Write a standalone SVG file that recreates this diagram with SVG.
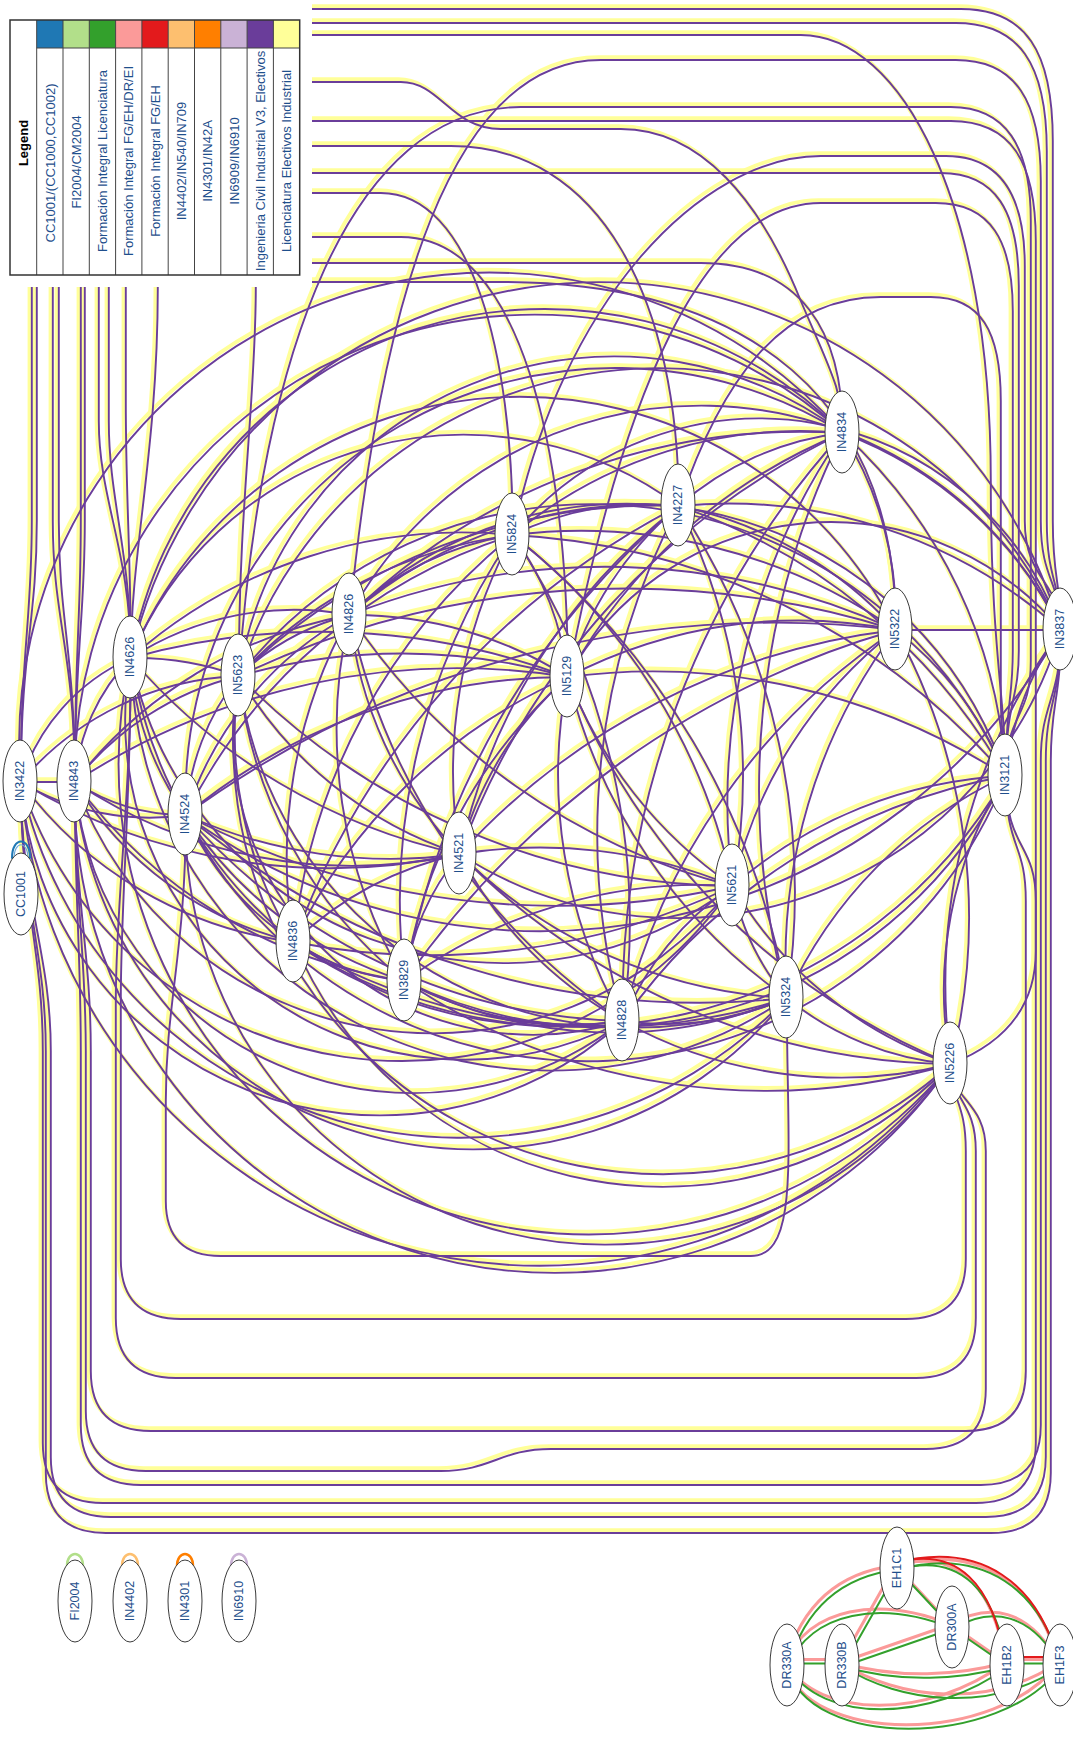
<svg xmlns="http://www.w3.org/2000/svg" xmlns:xlink="http://www.w3.org/1999/xlink" width="1073" height="1737" viewBox="0 0 1073 1737">
<style>
.n ellipse{fill:#fff;stroke:#3a3a3a;stroke-width:1}
.n text,.lt{font-family:"Liberation Sans",Arial,sans-serif;font-size:12.5px;fill:#1f4f8c;text-anchor:middle}
.lt{font-size:13px}
.lh{font-family:"Liberation Sans",Arial,sans-serif;font-size:13px;font-weight:bold;fill:#000;text-anchor:middle}
.grid{stroke:#444;stroke-width:1;fill:none}
</style>
<rect width="1073" height="1737" fill="#fff"/>
<g id="connectors" fill="none" stroke-linecap="round">
<g stroke="#ffff99" stroke-width="3.8" transform="translate(-1.5,-1.9)">
<g id="E">
<path d="M20,781L74,781"/>
<path d="M20,781A200,200 0 0 1 130,657"/>
<path d="M20,781A300,300 0 0 1 238,675"/>
<path d="M20,781A250,250 0 0 0 185,814"/>
<path d="M20,781A400,400 0 0 0 293,941"/>
<path d="M20,781A600,600 0 0 0 459,853"/>
<path d="M74,781A200,200 0 0 1 130,657"/>
<path d="M74,781A300,300 0 0 1 238,675"/>
<path d="M74,781A200,200 0 0 0 185,814"/>
<path d="M74,781A450,450 0 0 1 349,614"/>
<path d="M74,781A700,700 0 0 1 567,676"/>
<path d="M74,781A500,500 0 0 0 459,853"/>
<path d="M74,781A350,350 0 0 0 293,941"/>
<path d="M74,781A500,500 0 0 0 404,980"/>
<path d="M130,657A300,300 0 0 1 238,675"/>
<path d="M130,657A300,300 0 0 1 349,614"/>
<path d="M130,657A500,500 0 0 1 512,534"/>
<path d="M130,657A300,300 0 0 0 185,814"/>
<path d="M130,657A600,600 0 0 0 459,853"/>
<path d="M130,657A450,450 0 0 0 293,941"/>
<path d="M130,657A700,700 0 0 1 567,676"/>
<path d="M130,657A360,360 0 0 1 678,505"/>
<path d="M185,814A250,250 0 0 1 238,675"/>
<path d="M185,814A350,350 0 0 1 349,614"/>
<path d="M185,814A550,550 0 0 1 512,534"/>
<path d="M185,814A600,600 0 0 1 567,676"/>
<path d="M185,814A500,500 0 0 0 459,853"/>
<path d="M185,814A300,300 0 0 0 293,941"/>
<path d="M185,814A400,400 0 0 0 404,980"/>
<path d="M185,814A800,800 0 0 0 732,885"/>
<path d="M185,814A600,600 0 0 0 622,1020"/>
<path d="M185,814A1000,1000 0 0 1 895,629"/>
<path d="M185,814A800,800 0 0 0 786,997"/>
<path d="M238,675A250,250 0 0 1 349,614"/>
<path d="M238,675A450,450 0 0 1 512,534"/>
<path d="M238,675A600,600 0 0 1 567,676"/>
<path d="M238,675A400,400 0 0 0 459,853"/>
<path d="M238,675A400,400 0 0 0 293,941"/>
<path d="M238,675A450,450 0 0 0 404,980"/>
<path d="M238,675A600,600 0 0 1 678,505"/>
<path d="M238,675A900,900 0 0 1 895,629"/>
<path d="M238,675A700,700 0 0 0 732,885"/>
<path d="M238,675A380,380 0 0 1 842,432"/>
<path d="M293,941A500,500 0 0 1 349,614"/>
<path d="M293,941A350,350 0 0 1 459,853"/>
<path d="M293,941A250,250 0 0 0 404,980"/>
<path d="M293,941A550,550 0 0 1 567,676"/>
<path d="M293,941A450,450 0 0 0 622,1020"/>
<path d="M293,941A700,700 0 0 0 732,885"/>
<path d="M293,941A600,600 0 0 0 786,997"/>
<path d="M293,941A600,600 0 0 1 512,534"/>
<path d="M293,941A800,800 0 0 1 678,505"/>
<path d="M293,941A400,400 0 0 0 950,1063"/>
<path d="M349,614A300,300 0 0 1 512,534"/>
<path d="M349,614A400,400 0 0 1 567,676"/>
<path d="M349,614A400,400 0 0 0 459,853"/>
<path d="M349,614A500,500 0 0 0 404,980"/>
<path d="M349,614A450,450 0 0 1 678,505"/>
<path d="M349,614A700,700 0 0 1 895,629"/>
<path d="M349,614A650,650 0 0 1 842,432"/>
<path d="M349,614A650,650 0 0 0 732,885"/>
<path d="M349,614A650,650 0 0 0 622,1020"/>
<path d="M404,980A250,250 0 0 1 459,853"/>
<path d="M404,980A500,500 0 0 1 567,676"/>
<path d="M404,980A350,350 0 0 0 622,1020"/>
<path d="M404,980A500,500 0 0 1 732,885"/>
<path d="M404,980A450,450 0 0 0 786,997"/>
<path d="M404,980A650,650 0 0 1 512,534"/>
<path d="M404,980A800,800 0 0 1 678,505"/>
<path d="M404,980A650,650 0 0 0 950,1063"/>
<path d="M404,980A900,900 0 0 1 895,629"/>
<path d="M459,853A500,500 0 0 1 512,534"/>
<path d="M459,853A350,350 0 0 1 567,676"/>
<path d="M459,853A400,400 0 0 0 622,1020"/>
<path d="M459,853A500,500 0 0 1 732,885"/>
<path d="M459,853A500,500 0 0 0 786,997"/>
<path d="M459,853A600,600 0 0 1 678,505"/>
<path d="M459,853A700,700 0 0 1 895,629"/>
<path d="M459,853A750,750 0 0 1 842,432"/>
<path d="M459,853A700,700 0 0 0 950,1063"/>
<path d="M512,534A300,300 0 0 1 567,676"/>
<path d="M512,534A300,300 0 0 1 678,505"/>
<path d="M512,534A450,450 0 0 1 842,432"/>
<path d="M512,534A550,550 0 0 1 895,629"/>
<path d="M512,534A600,600 0 0 1 732,885"/>
<path d="M512,534A700,700 0 0 1 622,1020"/>
<path d="M512,534A750,750 0 0 1 786,997"/>
<path d="M512,534A700,700 0 0 1 1005,775"/>
<path d="M567,676A350,350 0 0 1 678,505"/>
<path d="M567,676A450,450 0 0 0 732,885"/>
<path d="M567,676A500,500 0 0 0 622,1020"/>
<path d="M567,676A550,550 0 0 0 786,997"/>
<path d="M567,676A500,500 0 0 1 895,629"/>
<path d="M567,676A550,550 0 0 1 842,432"/>
<path d="M567,676A700,700 0 0 0 950,1063"/>
<path d="M567,676A650,650 0 0 1 1005,775"/>
<path d="M622,1020A300,300 0 0 1 732,885"/>
<path d="M622,1020A300,300 0 0 0 786,997"/>
<path d="M622,1020A700,700 0 0 1 678,505"/>
<path d="M622,1020A650,650 0 0 1 895,629"/>
<path d="M622,1020A450,450 0 0 0 950,1063"/>
<path d="M622,1020A850,850 0 0 1 842,432"/>
<path d="M622,1020A600,600 0 0 1 1005,775"/>
<path d="M678,505A300,300 0 0 1 842,432"/>
<path d="M678,505A400,400 0 0 1 895,629"/>
<path d="M678,505A600,600 0 0 1 732,885"/>
<path d="M678,505A700,700 0 0 1 786,997"/>
<path d="M678,505A600,600 0 0 1 1005,775"/>
<path d="M678,505A500,500 0 0 1 1060,629"/>
<path d="M732,885A250,250 0 0 0 786,997"/>
<path d="M732,885A450,450 0 0 1 895,629"/>
<path d="M732,885A400,400 0 0 0 950,1063"/>
<path d="M732,885A450,450 0 0 1 1005,775"/>
<path d="M732,885A650,650 0 0 1 842,432"/>
<path d="M786,997A550,550 0 0 1 895,629"/>
<path d="M786,997A300,300 0 0 0 950,1063"/>
<path d="M786,997A450,450 0 0 1 1005,775"/>
<path d="M786,997A800,800 0 0 1 842,432"/>
<path d="M842,432A350,350 0 0 1 895,629"/>
<path d="M842,432A500,500 0 0 1 1005,775"/>
<path d="M842,432A400,400 0 0 1 1060,629"/>
<path d="M895,629L1060,629"/>
<path d="M895,629A350,350 0 0 1 1005,775"/>
<path d="M895,629A600,600 0 0 1 950,1063"/>
<path d="M950,1063A400,400 0 0 1 1005,775"/>
<path d="M950,1063A600,600 0 0 1 1060,629"/>
<path d="M1005,775A300,300 0 0 1 1060,629"/>
<path d="M20,781A520,520 0 0 0 950,1063"/>
<path d="M74,781A400,400 0 0 0 786,997"/>
<path d="M130,657A340,340 0 0 0 622,1020"/>
<path d="M74,781A480,480 0 0 0 950,1063"/>
<path d="M20,781A360,360 0 0 0 622,1020"/>
<path d="M130,657A470,470 0 0 0 950,1063"/>
<path d="M185,814A420,420 0 0 0 950,1063"/>
<path d="M238,675A430,430 0 0 0 950,1063"/>
<path d="M20,781A450,450 0 0 0 786,997"/>
<path d="M238,675A400,400 0 0 0 786,997"/>
<path d="M74,781A380,380 0 0 0 732,885"/>
<path d="M130,657A420,420 0 0 0 786,997"/>
<path d="M20,781A400,400 0 0 0 732,885"/>
<path d="M130,657A380,380 0 0 0 732,885"/>
<path d="M185,814A450,450 0 0 0 1005,775"/>
<path d="M238,675A300,300 0 0 0 622,1020"/>
<path d="M74,781A340,340 0 0 0 622,1020"/>
<path d="M293,941A500,500 0 0 0 1005,775"/>
<path d="M404,980A450,450 0 0 0 1005,775"/>
<path d="M185,814A600,600 0 0 0 1060,629"/>
<path d="M459,853A400,400 0 0 0 1060,629"/>
<path d="M130,657A420,420 0 0 1 842,432"/>
<path d="M238,675A440,440 0 0 1 1060,629"/>
<path d="M349,614A400,400 0 0 1 1060,629"/>
<path d="M130,657A420,420 0 0 1 895,629"/>
<path d="M512,534A320,320 0 0 1 1060,629"/>
<path d="M185,814A430,430 0 0 1 842,432"/>
<path d="M349,614A400,400 0 0 1 1005,775"/>
<path d="M238,675A450,450 0 0 1 1005,775"/>
<path d="M567,676A300,300 0 0 1 1060,629"/>
<path d="M74,781A460,460 0 0 1 842,432"/>
<path d="M20,781A470,470 0 0 1 842,432"/>
<path d="M130,657A480,480 0 0 1 1060,629"/>
<path d="M20,781C20,650 31,620 31,520L31,8L960,8C1025,8 1052,50 1052,140L1052,520C1052,580 1060,580 1060,629"/>
<path d="M20,781C20,650 36,620 36,520L36,81L400,81C440,81 450,128 500,128L620,128C700,128 760,200 800,300C830,370 842,390 842,432"/>
<path d="M74,781C74,650 52,620 52,520L52,34L800,34C900,34 990,200 990,480C990,650 1005,700 1005,775"/>
<path d="M74,781C74,650 58,620 58,520L58,22L955,22C1018,22 1046,62 1046,150L1046,520C1046,580 1060,580 1060,629"/>
<path d="M74,781C74,650 80,620 80,520L80,145L450,145C600,145 678,300 678,505"/>
<path d="M74,781C74,650 84,620 84,520L84,281L500,281C750,281 895,400 895,629"/>
<path d="M130,657C130,550 98,500 98,420L98,192L380,192C470,192 512,350 512,534"/>
<path d="M130,657C130,550 108,500 108,420L108,236L400,236C520,236 567,450 567,676"/>
<path d="M130,657C130,550 125,500 125,400L125,262L700,262C800,262 842,330 842,432"/>
<path d="M130,657C130,550 157,450 157,287L157,120L950,120C1010,120 1035,160 1035,240L1035,950Q1035,1030 950,1063"/>
<path d="M238,675C238,500 255,400 255,287L255,172L940,172C995,172 1018,210 1018,285L1018,650C1018,700 1005,700 1005,775"/>
<path d="M349,614C380,300 450,59 600,59L955,59C1015,59 1040,100 1040,180L1040,520C1040,580 1060,580 1060,629"/>
<path d="M238,675C260,350 350,106 520,106L950,106C1005,106 1030,145 1030,220L1030,660C1030,720 1005,710 1005,775"/>
<path d="M512,534C560,300 700,155 820,155L945,155C1000,155 1024,195 1024,265L1024,520C1024,580 1060,580 1060,629"/>
<path d="M567,676C620,400 700,202 820,202L935,202C990,202 1012,240 1012,310L1012,650C1012,700 1005,700 1005,775"/>
<path d="M678,505C720,380 780,296 880,296L930,296C980,296 1000,330 1000,400L1000,700C1000,740 1005,740 1005,775"/>
<path d="M20,781C20,900 45,950 45,1050L45,1472Q45,1532 105,1532L990,1532Q1050,1532 1050,1472L1050,760C1050,700 1060,700 1060,629"/>
<path d="M20,781C20,900 50,950 50,1050L50,1456Q50,1516 110,1516L985,1516Q1045,1516 1045,1456L1045,760C1045,700 1060,700 1060,629"/>
<path d="M20,781C20,900 42,950 42,1050L42,1442Q42,1502 102,1502L975,1502Q1035,1502 1035,1442L1035,900C1035,840 1005,850 1005,775"/>
<path d="M74,781C74,900 80,950 80,1050L80,1424Q80,1484 140,1484L980,1484Q1040,1484 1040,1424L1040,760C1040,700 1060,700 1060,629"/>
<path d="M74,781C74,900 85,950 85,1050L85,1410Q85,1470 145,1470L440,1470C490,1470 500,1448 550,1448L925,1448Q985,1448 985,1388L985,1150C985,1100 950,1100 950,1063"/>
<path d="M74,781C74,900 90,950 90,1050L90,1370Q90,1430 150,1430L965,1430Q1025,1430 1025,1370L1025,900C1025,840 1005,850 1005,775"/>
<path d="M130,657C130,800 115,900 115,1000L115,1317Q115,1377 175,1377L915,1377Q975,1377 975,1317L975,1150C975,1100 950,1100 950,1063"/>
<path d="M130,657C130,800 120,900 120,1000L120,1258Q120,1318 180,1318L905,1318Q965,1318 965,1258L965,1150C965,1100 950,1100 950,1063"/>
<path d="M185,814C185,950 165,1000 165,1100L165,1200Q165,1255 220,1255L750,1255C800,1255 786,1150 786,997"/>
</g>
</g>
<use xlink:href="#E" href="#E" stroke="#6a3d9a" stroke-width="1.9" transform="translate(0.8,1)"/>
<g id="cluster-edges">
<g stroke="#fb9a99" stroke-width="3" transform="translate(-1.5,-2.5)">
<g id="CE">
<path d="M787,1665Q812,1578 897,1568"/>
<path d="M787,1665C810,1610 880,1598 952,1627"/>
<path d="M787,1662L842,1662"/>
<path d="M787,1665C820,1722 930,1722 1007,1665"/>
<path d="M787,1665C805,1748 1000,1748 1060,1665"/>
<path d="M842,1665L897,1568"/>
<path d="M842,1665L952,1627"/>
<path d="M842,1665C900,1682 960,1678 1007,1665"/>
<path d="M842,1665C900,1702 990,1712 1060,1665"/>
<path d="M897,1568L952,1627"/>
<path d="M897,1568C960,1550 995,1590 1007,1665"/>
<path d="M897,1568C985,1545 1040,1590 1060,1665"/>
<path d="M952,1627L1007,1665"/>
<path d="M952,1627C990,1605 1030,1610 1060,1665"/>
<path d="M1007,1662L1060,1662"/>
</g>
</g>
<use xlink:href="#CE" href="#CE" stroke="#33a02c" stroke-width="2" transform="translate(1,1.5)"/>
<g stroke="#e31a1c" stroke-width="2" transform="translate(-2,-5)">
<path d="M897,1568C960,1550 995,1590 1007,1665"/>
<path d="M897,1568C985,1545 1040,1590 1060,1665"/>
<path d="M1007,1662L1060,1662"/>
</g>
</g>
<g id="self-loops" stroke-width="2">
<path d="M12,858C12,836 30,836 30,858" stroke="#1f78b4"/>
<path d="M14,859C14,840 28,840 28,859" stroke="#6aa8d8" stroke-width="1.2"/>
<path d="M67,1566C67,1550 83,1550 83,1566" stroke="#b2df8a" stroke-width="2.5"/>
<path d="M122,1566C122,1550 138,1550 138,1566" stroke="#fdbf6f" stroke-width="2.5"/>
<path d="M177,1566C177,1550 193,1550 193,1566" stroke="#ff7f00" stroke-width="2.5"/>
<path d="M231,1566C231,1550 247,1550 247,1566" stroke="#cab2d6" stroke-width="2.5"/>
</g>
</g>
<rect x="0" y="0" width="312" height="287" fill="#fff"/>
<g id="legend">
<rect x="36.7" y="20" width="26.3" height="28" fill="#1f78b4"/>
<rect x="63" y="20" width="26.3" height="28" fill="#b2df8a"/>
<rect x="89.3" y="20" width="26.3" height="28" fill="#33a02c"/>
<rect x="115.6" y="20" width="26.3" height="28" fill="#fb9a99"/>
<rect x="141.9" y="20" width="26.3" height="28" fill="#e31a1c"/>
<rect x="168.2" y="20" width="26.3" height="28" fill="#fdbf6f"/>
<rect x="194.5" y="20" width="26.3" height="28" fill="#ff7f00"/>
<rect x="220.8" y="20" width="26.3" height="28" fill="#cab2d6"/>
<rect x="247.1" y="20" width="26.3" height="28" fill="#6a3d9a"/>
<rect x="273.4" y="20" width="26.3" height="28" fill="#ffff99"/>
<path class="grid" d="M36.7,20V275M63,20V275M89.3,20V275M115.6,20V275M141.9,20V275M168.2,20V275M194.5,20V275M220.8,20V275M247.1,20V275M273.4,20V275M36.7,48H299.7"/>
<rect x="10" y="20" width="289.7" height="255" fill="none" stroke="#333" stroke-width="1.5"/>
<text class="lh" transform="translate(23.3,143) rotate(-90)" y="4.6">Legend</text>
<text class="lt" transform="translate(49.9,163) rotate(-90)" y="4.6">CC1001/(CC1000,CC1002)</text>
<text class="lt" transform="translate(76.2,162) rotate(-90)" y="4.6">FI2004/CM2004</text>
<text class="lt" transform="translate(102.5,161) rotate(-90)" y="4.6">Formación Integral Licenciatura</text>
<text class="lt" transform="translate(128.8,161) rotate(-90)" y="4.6">Formación Integral FG/EH/DR/EI</text>
<text class="lt" transform="translate(155.1,161) rotate(-90)" y="4.6">Formación Integral FG/EH</text>
<text class="lt" transform="translate(181.4,161) rotate(-90)" y="4.6">IN4402/IN540/IN709</text>
<text class="lt" transform="translate(207.7,161) rotate(-90)" y="4.6">IN4301/IN42A</text>
<text class="lt" transform="translate(234,161) rotate(-90)" y="4.6">IN6909/IN6910</text>
<text class="lt" transform="translate(260.3,161) rotate(-90)" y="4.6">Ingenieria Civil Industrial V3, Electivos</text>
<text class="lt" transform="translate(286.6,161) rotate(-90)" y="4.6">Licenciatura Electivos Industrial</text>
</g>
<g id="n-IN3422" class="n" transform="translate(20,781)"><ellipse rx="17" ry="41"/><text transform="rotate(-90)" y="4.3">IN3422</text></g>
<g id="n-CC1001" class="n" transform="translate(21,894)"><ellipse rx="17" ry="41"/><text transform="rotate(-90)" y="4.3">CC1001</text></g>
<g id="n-IN4843" class="n" transform="translate(74,781)"><ellipse rx="17" ry="41"/><text transform="rotate(-90)" y="4.3">IN4843</text></g>
<g id="n-IN4626" class="n" transform="translate(130,657)"><ellipse rx="17" ry="41"/><text transform="rotate(-90)" y="4.3">IN4626</text></g>
<g id="n-IN4524" class="n" transform="translate(185,814)"><ellipse rx="17" ry="41"/><text transform="rotate(-90)" y="4.3">IN4524</text></g>
<g id="n-IN5623" class="n" transform="translate(238,675)"><ellipse rx="17" ry="41"/><text transform="rotate(-90)" y="4.3">IN5623</text></g>
<g id="n-IN4836" class="n" transform="translate(293,941)"><ellipse rx="17" ry="41"/><text transform="rotate(-90)" y="4.3">IN4836</text></g>
<g id="n-IN4826" class="n" transform="translate(349,614)"><ellipse rx="17" ry="41"/><text transform="rotate(-90)" y="4.3">IN4826</text></g>
<g id="n-IN3829" class="n" transform="translate(404,980)"><ellipse rx="17" ry="41"/><text transform="rotate(-90)" y="4.3">IN3829</text></g>
<g id="n-IN4521" class="n" transform="translate(459,853)"><ellipse rx="17" ry="41"/><text transform="rotate(-90)" y="4.3">IN4521</text></g>
<g id="n-IN5824" class="n" transform="translate(512,534)"><ellipse rx="17" ry="41"/><text transform="rotate(-90)" y="4.3">IN5824</text></g>
<g id="n-IN5129" class="n" transform="translate(567,676)"><ellipse rx="17" ry="41"/><text transform="rotate(-90)" y="4.3">IN5129</text></g>
<g id="n-IN4828" class="n" transform="translate(622,1020)"><ellipse rx="17" ry="41"/><text transform="rotate(-90)" y="4.3">IN4828</text></g>
<g id="n-IN4227" class="n" transform="translate(678,505)"><ellipse rx="17" ry="41"/><text transform="rotate(-90)" y="4.3">IN4227</text></g>
<g id="n-IN5621" class="n" transform="translate(732,885)"><ellipse rx="17" ry="41"/><text transform="rotate(-90)" y="4.3">IN5621</text></g>
<g id="n-IN5324" class="n" transform="translate(786,997)"><ellipse rx="17" ry="41"/><text transform="rotate(-90)" y="4.3">IN5324</text></g>
<g id="n-IN4834" class="n" transform="translate(842,432)"><ellipse rx="17" ry="41"/><text transform="rotate(-90)" y="4.3">IN4834</text></g>
<g id="n-IN5322" class="n" transform="translate(895,629)"><ellipse rx="17" ry="41"/><text transform="rotate(-90)" y="4.3">IN5322</text></g>
<g id="n-IN5226" class="n" transform="translate(950,1063)"><ellipse rx="17" ry="41"/><text transform="rotate(-90)" y="4.3">IN5226</text></g>
<g id="n-IN3121" class="n" transform="translate(1005,775)"><ellipse rx="17" ry="41"/><text transform="rotate(-90)" y="4.3">IN3121</text></g>
<g id="n-IN3837" class="n" transform="translate(1060,629)"><ellipse rx="17" ry="41"/><text transform="rotate(-90)" y="4.3">IN3837</text></g>
<g id="n-FI2004" class="n" transform="translate(75,1601)"><ellipse rx="17" ry="41"/><text transform="rotate(-90)" y="4.3">FI2004</text></g>
<g id="n-IN4402" class="n" transform="translate(130,1601)"><ellipse rx="17" ry="41"/><text transform="rotate(-90)" y="4.3">IN4402</text></g>
<g id="n-IN4301" class="n" transform="translate(185,1601)"><ellipse rx="17" ry="41"/><text transform="rotate(-90)" y="4.3">IN4301</text></g>
<g id="n-IN6910" class="n" transform="translate(239,1601)"><ellipse rx="17" ry="41"/><text transform="rotate(-90)" y="4.3">IN6910</text></g>
<g id="n-EH1C1" class="n" transform="translate(897,1568)"><ellipse rx="17" ry="41"/><text transform="rotate(-90)" y="4.3">EH1C1</text></g>
<g id="n-DR300A" class="n" transform="translate(952,1627)"><ellipse rx="17" ry="41"/><text transform="rotate(-90)" y="4.3">DR300A</text></g>
<g id="n-DR330A" class="n" transform="translate(787,1665)"><ellipse rx="17" ry="41"/><text transform="rotate(-90)" y="4.3">DR330A</text></g>
<g id="n-DR330B" class="n" transform="translate(842,1665)"><ellipse rx="17" ry="41"/><text transform="rotate(-90)" y="4.3">DR330B</text></g>
<g id="n-EH1B2" class="n" transform="translate(1007,1665)"><ellipse rx="17" ry="41"/><text transform="rotate(-90)" y="4.3">EH1B2</text></g>
<g id="n-EH1F3" class="n" transform="translate(1060,1665)"><ellipse rx="17" ry="41"/><text transform="rotate(-90)" y="4.3">EH1F3</text></g>
</svg>
